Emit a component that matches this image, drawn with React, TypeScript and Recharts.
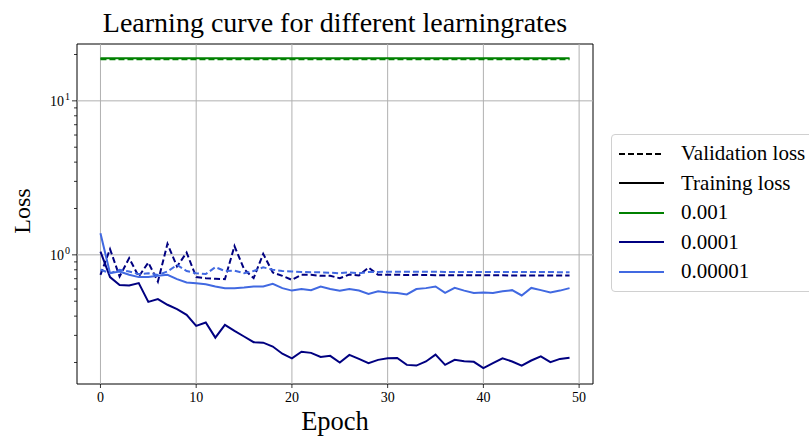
import React from "react";
import {
  LineChart,
  Line,
  XAxis,
  YAxis,
  ReferenceLine,
  ReferenceArea,
} from "recharts";

const FONT = "'Liberation Serif', 'DejaVu Serif', serif";

const epochs = [
  0, 1, 2, 3, 4, 5, 6, 7, 8, 9, 10, 11, 12, 13, 14, 15, 16, 17, 18, 19, 20, 21,
  22, 23, 24, 25, 26, 27, 28, 29, 30, 31, 32, 33, 34, 35, 36, 37, 38, 39, 40,
  41, 42, 43, 44, 45, 46, 47, 48, 49,
];

// lr 0.001
const trainLr3 = [
  18.9, 18.9, 18.9, 18.9, 18.9, 18.9, 18.9, 18.9, 18.9, 18.9, 18.9, 18.9, 18.9,
  18.9, 18.9, 18.9, 18.9, 18.9, 18.9, 18.9, 18.9, 18.9, 18.9, 18.9, 18.9, 18.9,
  18.9, 18.9, 18.9, 18.9, 18.9, 18.9, 18.9, 18.9, 18.9, 18.9, 18.9, 18.9, 18.9,
  18.9, 18.9, 18.9, 18.9, 18.9, 18.9, 18.9, 18.9, 18.9, 18.9, 18.9,
];
const valLr3 = [
  18.6, 18.6, 18.6, 18.6, 18.6, 18.6, 18.6, 18.6, 18.6, 18.6, 18.6, 18.6, 18.6,
  18.6, 18.6, 18.6, 18.6, 18.6, 18.6, 18.6, 18.6, 18.6, 18.6, 18.6, 18.6, 18.6,
  18.6, 18.6, 18.6, 18.6, 18.6, 18.6, 18.6, 18.6, 18.6, 18.6, 18.6, 18.6, 18.6,
  18.6, 18.6, 18.6, 18.6, 18.6, 18.6, 18.6, 18.6, 18.6, 18.6, 18.6,
];

// lr 0.0001
const trainLr4 = [
  1.05, 0.717, 0.638, 0.632, 0.655, 0.495, 0.516, 0.474, 0.444, 0.408, 0.346,
  0.364, 0.29, 0.351, 0.321, 0.295, 0.271, 0.269, 0.254, 0.228, 0.213, 0.235,
  0.231, 0.217, 0.221, 0.2, 0.224, 0.211, 0.198, 0.208, 0.213, 0.214, 0.193,
  0.191, 0.203, 0.225, 0.193, 0.208, 0.204, 0.202, 0.184, 0.198, 0.213, 0.203,
  0.191, 0.206, 0.219, 0.201, 0.211, 0.215,
];
const valLr4 = [
  0.742, 1.09, 0.723, 0.952, 0.723, 0.891, 0.671, 1.18, 0.84, 1.035, 0.717,
  0.706, 0.7, 0.695, 1.14, 0.807, 0.706, 1.015, 0.768, 0.731, 0.688, 0.742,
  0.742, 0.731, 0.731, 0.705, 0.745, 0.735, 0.828, 0.742, 0.742, 0.742, 0.74,
  0.742, 0.74, 0.738, 0.738, 0.737, 0.737, 0.737, 0.736, 0.736, 0.736, 0.735,
  0.735, 0.735, 0.735, 0.735, 0.734, 0.734,
];

// lr 0.00001
const trainLr5 = [
  1.38, 0.76, 0.78, 0.742, 0.717, 0.717, 0.731, 0.742, 0.695, 0.661, 0.655,
  0.645, 0.623, 0.608, 0.608, 0.614, 0.623, 0.623, 0.648, 0.608, 0.586, 0.6,
  0.59, 0.623, 0.6, 0.584, 0.6, 0.586, 0.558, 0.58, 0.569, 0.566, 0.553, 0.6,
  0.608, 0.623, 0.566, 0.61, 0.586, 0.566, 0.569, 0.566, 0.58, 0.59, 0.545,
  0.61, 0.59, 0.569, 0.586, 0.608,
];
const valLr5 = [
  0.8, 0.76, 0.8, 0.78, 0.75, 0.76, 0.74, 0.78, 0.86, 0.785, 0.76, 0.75, 0.832,
  0.785, 0.79, 0.76, 0.785, 0.83, 0.8, 0.785, 0.78, 0.775, 0.77, 0.77, 0.765,
  0.76, 0.77, 0.76, 0.775, 0.775, 0.776, 0.776, 0.777, 0.777, 0.776, 0.776,
  0.775, 0.775, 0.775, 0.775, 0.774, 0.774, 0.774, 0.774, 0.773, 0.773, 0.773,
  0.773, 0.772, 0.772,
];

const xTicks = [0, 10, 20, 30, 40, 50];
const yMajor = [1, 10];
const yMinor = [
  0.2, 0.3, 0.4, 0.5, 0.6, 0.7, 0.8, 0.9, 2, 3, 4, 5, 6, 7, 8, 9, 20,
];
const xDomain = [-2.45, 51.45];
const yDomain = [0.145, 23.4];

const legendItems = [
  { label: "Validation loss", color: "#000", dashed: true },
  { label: "Training loss", color: "#000", dashed: false },
  { label: "0.001", color: "green", dashed: false },
  { label: "0.0001", color: "navy", dashed: false },
  { label: "0.00001", color: "royalblue", dashed: false },
];

const data = epochs.map((e, i) => ({
  epoch: e,
  t3: trainLr3[i],
  v3: valLr3[i],
  t4: trainLr4[i],
  v4: valLr4[i],
  t5: trainLr5[i],
  v5: valLr5[i],
}));

function YTick(props: any) {
  const { x, y, payload } = props;
  const major = yMajor.includes(payload.value);
  const exp = Math.round(Math.log10(payload.value));
  return (
    <g>
      <line x1={x - (major ? 5 : 3)} x2={x} y1={y} y2={y} stroke="#000" strokeWidth={0.8} />
      {major && (
        <text x={x - 13} y={y + 5} textAnchor="end" fontSize={14} fontFamily={FONT} fill="#000">
          10
        </text>
      )}
      {major && (
        <text x={x - 12} y={y - 1} textAnchor="start" fontSize={10} fontFamily={FONT} fill="#000">
          {exp}
        </text>
      )}
    </g>
  );
}

function LegendBox() {
  return (
    <div
      style={{
        position: "absolute",
        left: 611,
        top: 134,
        width: 210,
        height: 158,
        border: "1px solid #d0d0d0",
        borderRadius: 4,
        background: "#fff",
        fontFamily: FONT,
        fontSize: 21,
        color: "#000",
        boxSizing: "border-box",
        paddingTop: 4,
      }}
    >
      {legendItems.map((it) => (
        <div key={it.label} style={{ display: "flex", alignItems: "center", height: 29.5 }}>
          <svg width={60} height={10} style={{ marginLeft: 7 }}>
            <line
              x1={0}
              x2={45}
              y1={5}
              y2={5}
              stroke={it.color}
              strokeWidth={2}
              strokeDasharray={it.dashed ? "6 3" : undefined}
            />
          </svg>
          <span style={{ marginLeft: 2, whiteSpace: "nowrap" }}>{it.label}</span>
        </div>
      ))}
    </div>
  );
}

export default function App() {
  return (
    <div
      style={{
        position: "absolute",
        left: 0,
        top: 0,
        width: 809,
        height: 444,
        overflow: "hidden",
        background: "#fff",
      }}
    >
      <LineChart
        width={809}
        height={444}
        data={data}
        margin={{ top: 44, right: 216, bottom: 30, left: 17 }}
      >
        <XAxis
          dataKey="epoch"
          type="number"
          domain={xDomain}
          allowDataOverflow
          ticks={xTicks}
          tickSize={4}
          tickMargin={4}
          height={30}
          axisLine={false}
          tickLine={{ stroke: "#000", strokeWidth: 0.8 }}
          tick={{ fontSize: 14, fontFamily: FONT, fill: "#000" }}
        />
        <YAxis
          scale="log"
          type="number"
          domain={yDomain}
          allowDataOverflow
          ticks={[...yMinor, ...yMajor]}
          width={60}
          axisLine={false}
          tickLine={false}
          tickSize={0}
          tickMargin={0}
          interval={0}
          tick={<YTick />}
        />
        {xTicks.map((t) => (
          <ReferenceLine key={"x" + t} x={t} stroke="#b0b0b0" strokeWidth={1} />
        ))}
        {yMajor.map((t) => (
          <ReferenceLine key={"y" + t} y={t} stroke="#b0b0b0" strokeWidth={1} />
        ))}
        <Line dataKey="t3" stroke="green" strokeWidth={2} dot={false} isAnimationActive={false} />
        <Line dataKey="v3" stroke="green" strokeWidth={2} strokeDasharray="6 3" dot={false} isAnimationActive={false} />
        <Line dataKey="t4" stroke="navy" strokeWidth={2} dot={false} isAnimationActive={false} />
        <Line dataKey="v4" stroke="navy" strokeWidth={2} strokeDasharray="6 3" dot={false} isAnimationActive={false} />
        <Line dataKey="t5" stroke="royalblue" strokeWidth={2} dot={false} isAnimationActive={false} />
        <Line dataKey="v5" stroke="royalblue" strokeWidth={2} strokeDasharray="6 3" dot={false} isAnimationActive={false} />
        <ReferenceArea
          x1={xDomain[0]}
          x2={xDomain[1]}
          y1={yDomain[0]}
          y2={yDomain[1]}
          fill="none"
          stroke="#000"
          strokeWidth={1}
          ifOverflow="visible"
        />
      </LineChart>
      <div
        style={{
          position: "absolute",
          left: 77,
          width: 516,
          top: 8,
          textAlign: "center",
          fontFamily: FONT,
          fontSize: 28,
          lineHeight: 1.1,
          whiteSpace: "nowrap",
        }}
      >
        Learning curve for different learningrates
      </div>
      <div
        style={{
          position: "absolute",
          left: 77,
          width: 516,
          top: 407,
          textAlign: "center",
          fontFamily: FONT,
          fontSize: 26.5,
          lineHeight: 1.1,
        }}
      >
        Epoch
      </div>
      <div
        style={{
          position: "absolute",
          left: 22,
          top: 211,
          transform: "translate(-50%, -50%) rotate(-90deg)",
          fontFamily: FONT,
          fontSize: 24,
        }}
      >
        Loss
      </div>
      <LegendBox />
    </div>
  );
}
